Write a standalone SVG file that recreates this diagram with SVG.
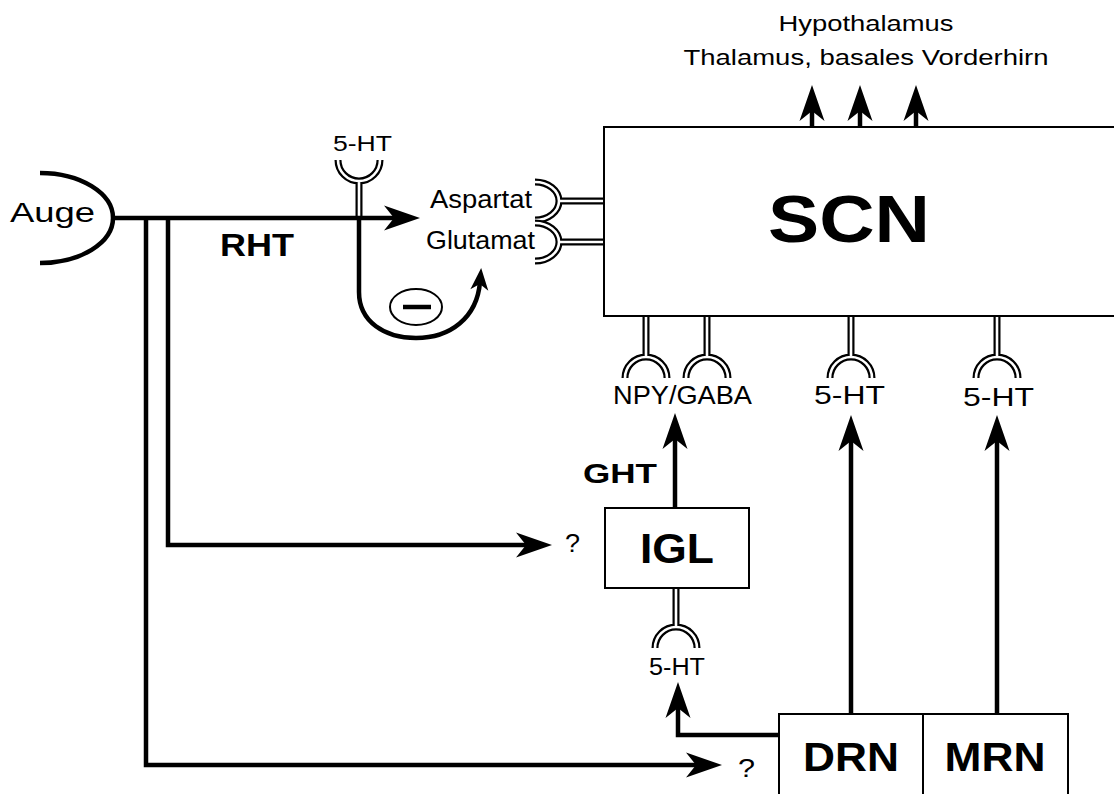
<svg xmlns="http://www.w3.org/2000/svg" width="1114" height="794" viewBox="0 0 1114 794">
<style>
.t{font-family:"Liberation Sans",Arial,sans-serif;fill:#000}
.b{font-weight:bold}
.box{fill:#fff;stroke:#000;stroke-width:2}
.ln{fill:none;stroke:#000;stroke-width:4.5}
.ro{fill:none;stroke:#000;stroke-width:7}
.ri{fill:none;stroke:#fff;stroke-width:2.6}
</style>
<defs>
<marker id="ah" markerUnits="userSpaceOnUse" markerWidth="40" markerHeight="30" viewBox="0 -15 40 30" refX="12" refY="0" orient="auto" overflow="visible">
<path d="M0,-12.5 L36,0 L0,12.5 L10,0 Z" fill="#000"/>
</marker>
<marker id="ahs" markerUnits="userSpaceOnUse" markerWidth="30" markerHeight="24" viewBox="0 -12 30 24" refX="8" refY="0" orient="auto" overflow="visible">
<path d="M0,-9 L22,0 L0,9 L6,0 Z" fill="#000"/>
</marker>
</defs>
<rect width="1114" height="794" fill="#fff"/>

<g id="receptors">
<!-- SCN bottom stems and cups -->
<g id="rec-npy">
<path class="ro" d="M646,316 V357 M625,378 A21,21 0 0 1 667,378"/>
<path class="ri" d="M646,314 V357 M625,378 A21,21 0 0 1 667,378"/>
</g>
<g id="rec-gaba">
<path class="ro" d="M707,316 V357 M686,378 A21,21 0 0 1 728,378"/>
<path class="ri" d="M707,314 V357 M686,378 A21,21 0 0 1 728,378"/>
</g>
<g id="rec-5ht-drn">
<path class="ro" d="M851,316 V357 M830,378 A21,21 0 0 1 872,378"/>
<path class="ri" d="M851,314 V357 M830,378 A21,21 0 0 1 872,378"/>
</g>
<g id="rec-5ht-mrn">
<path class="ro" d="M997,316 V357 M976,378 A21,21 0 0 1 1018,378"/>
<path class="ri" d="M997,314 V357 M976,378 A21,21 0 0 1 1018,378"/>
</g>
<g id="rec-5ht-igl">
<path class="ro" d="M676,588 V627 M655,648 A21,21 0 0 1 697,648"/>
<path class="ri" d="M676,586 V627 M655,648 A21,21 0 0 1 697,648"/>
</g>
<g id="rec-aspartat">
<path class="ro" d="M559,201 H604 M535,182 A24,19 0 0 1 535,220"/>
<path class="ri" d="M559,201 H606 M535,182 A24,19 0 0 1 535,220"/>
</g>
<g id="rec-glutamat">
<path class="ro" d="M559,242 H604 M535,223 A24,19 0 0 1 535,261"/>
<path class="ri" d="M559,242 H606 M535,223 A24,19 0 0 1 535,261"/>
</g>
<g id="rec-5ht-top">
<path class="ro" d="M359,181 V218 M338,160 A21,21 0 0 0 380,160"/>
<path class="ri" d="M359,181 V216 M338,160 A21,21 0 0 0 380,160"/>
</g>
</g>

<g id="scn">
<rect class="box" x="604" y="127" width="520" height="189"/>
<text class="t b" x="849" y="242" font-size="66" text-anchor="middle" textLength="162" lengthAdjust="spacingAndGlyphs">SCN</text>
</g>
<g id="igl">
<rect class="box" x="605" y="508" width="144" height="80"/>
<text class="t b" x="677" y="563" font-size="42" text-anchor="middle" textLength="74" lengthAdjust="spacingAndGlyphs">IGL</text>
</g>
<g id="drn">
<rect class="box" x="779" y="714" width="144" height="90"/>
<text class="t b" x="851" y="771" font-size="40" text-anchor="middle" textLength="96" lengthAdjust="spacingAndGlyphs">DRN</text>
</g>
<g id="mrn">
<rect class="box" x="923" y="714" width="145" height="90"/>
<text class="t b" x="995" y="771" font-size="40" text-anchor="middle" textLength="101" lengthAdjust="spacingAndGlyphs">MRN</text>
</g>
<g id="auge">
<path class="ln" d="M40,173 A73,45 0 0 1 40,263"/>
<text class="t" x="10" y="222" font-size="28" textLength="85" lengthAdjust="spacingAndGlyphs">Auge</text>
</g>

<g id="connectors">
<path class="ln" d="M111,218 H396" marker-end="url(#ah)"/>
<path class="ln" d="M146,216 V765 H698" marker-end="url(#ah)"/>
<path class="ln" d="M168,216 V545 H528" marker-end="url(#ah)"/>
<path class="ln" d="M359,218 V292 C359,322 385,338 416,338 C450,338 477,318 480,282" marker-end="url(#ahs)"/>
<path class="ln" d="M675,508 V437" marker-end="url(#ah)"/>
<path class="ln" d="M851,714 V439" marker-end="url(#ah)"/>
<path class="ln" d="M997,714 V439" marker-end="url(#ah)"/>
<path class="ln" d="M779,735 H678 V706" marker-end="url(#ah)"/>
<path class="ln" d="M812,127 V109" marker-end="url(#ah)"/>
<path class="ln" d="M860,127 V109" marker-end="url(#ah)"/>
<path class="ln" d="M916,127 V109" marker-end="url(#ah)"/>
</g>

<g id="inhibition">
<ellipse cx="416" cy="307" rx="26" ry="18" fill="#fff" stroke="#000" stroke-width="2"/>
<line x1="403" y1="307" x2="431" y2="307" stroke="#000" stroke-width="4.5"/>
</g>

<g id="labels">
<text class="t" x="866" y="31" font-size="22" text-anchor="middle" textLength="175" lengthAdjust="spacingAndGlyphs">Hypothalamus</text>
<text class="t" x="866" y="65" font-size="22" text-anchor="middle" textLength="365" lengthAdjust="spacingAndGlyphs">Thalamus, basales Vorderhirn</text>
<text class="t" x="333" y="151" font-size="22" textLength="59" lengthAdjust="spacingAndGlyphs">5-HT</text>
<text class="t" x="430" y="208" font-size="25" textLength="102" lengthAdjust="spacingAndGlyphs">Aspartat</text>
<text class="t" x="426" y="249" font-size="25" textLength="109" lengthAdjust="spacingAndGlyphs">Glutamat</text>
<text class="t b" x="220" y="256" font-size="32" textLength="74" lengthAdjust="spacingAndGlyphs">RHT</text>
<text class="t b" x="583" y="483" font-size="28" textLength="74" lengthAdjust="spacingAndGlyphs">GHT</text>
<text class="t" x="613" y="404" font-size="26" textLength="139" lengthAdjust="spacingAndGlyphs">NPY/GABA</text>
<text class="t" x="814" y="404" font-size="26" textLength="71" lengthAdjust="spacingAndGlyphs">5-HT</text>
<text class="t" x="963" y="406" font-size="26" textLength="71" lengthAdjust="spacingAndGlyphs">5-HT</text>
<text class="t" x="649" y="675" font-size="23" textLength="56" lengthAdjust="spacingAndGlyphs">5-HT</text>
<text class="t" x="565" y="552" font-size="26" textLength="15" lengthAdjust="spacingAndGlyphs">?</text>
<text class="t" x="738" y="777" font-size="26" textLength="17" lengthAdjust="spacingAndGlyphs">?</text>
</g>
</svg>
